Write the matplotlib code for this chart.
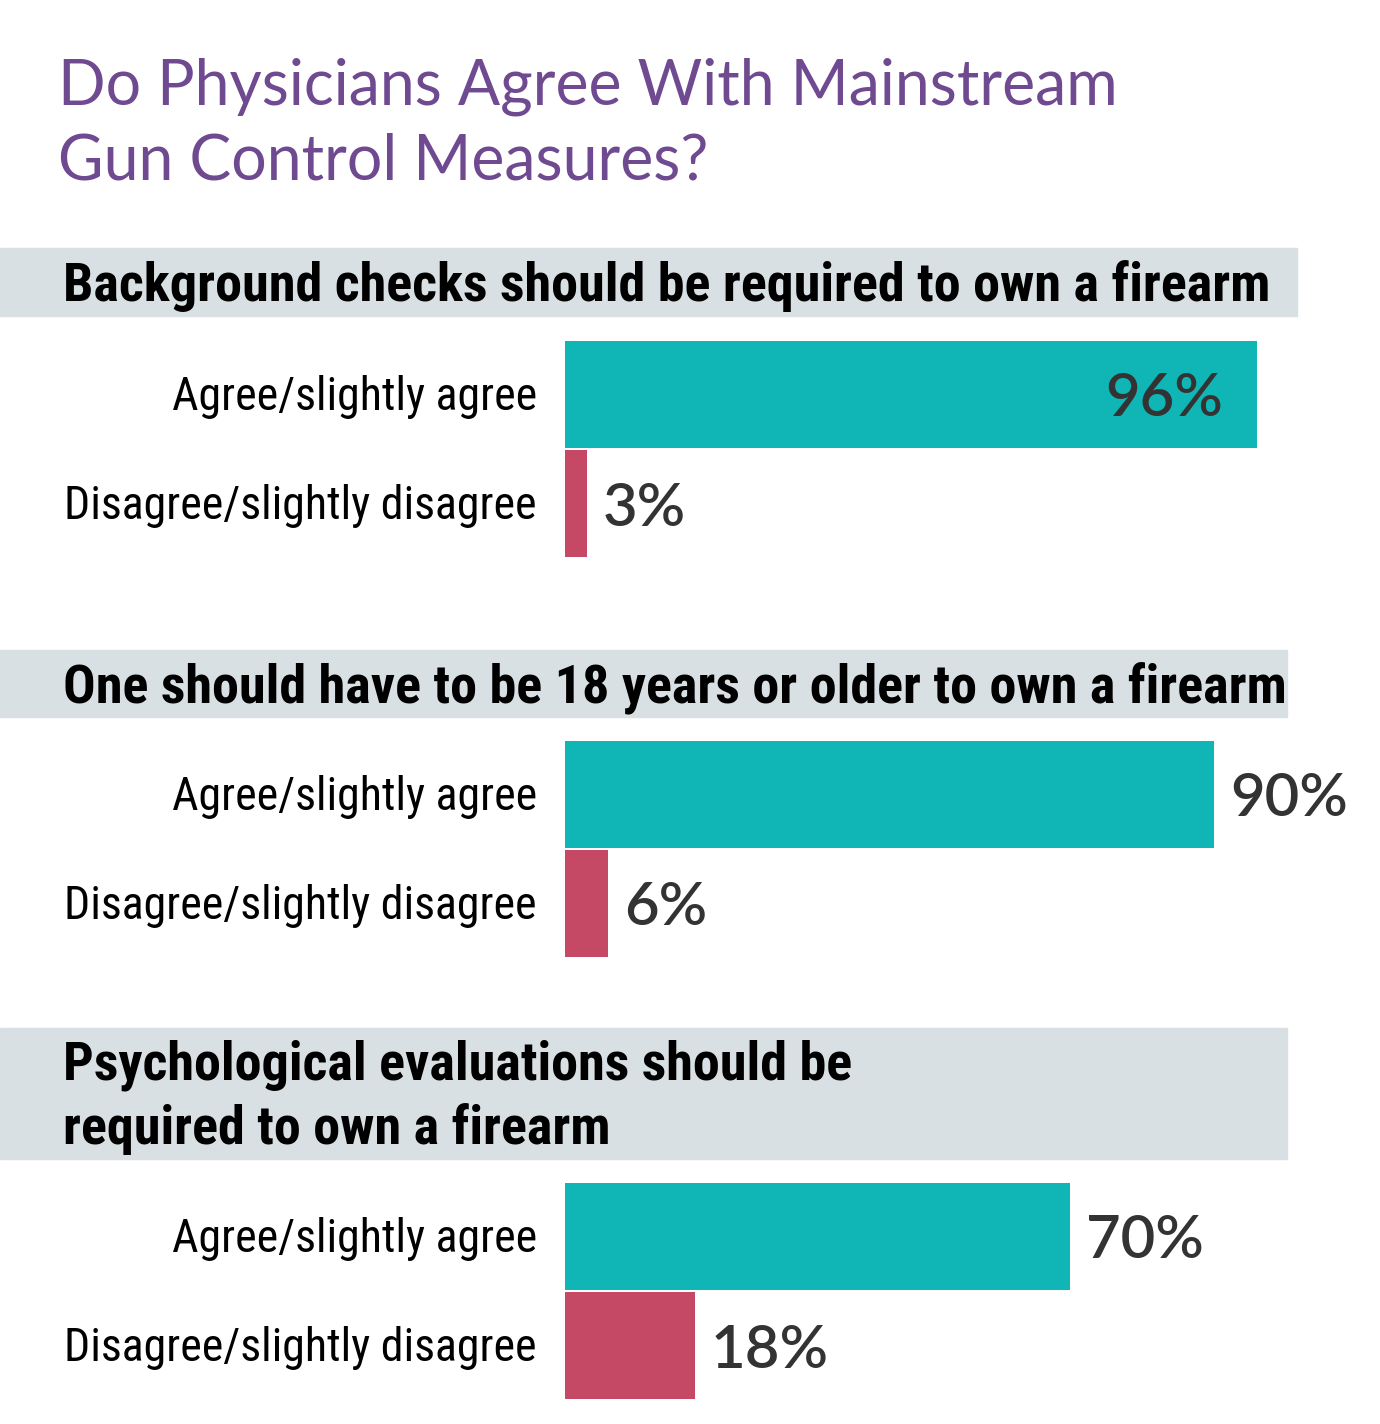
import matplotlib.pyplot as plt
from matplotlib.patches import Rectangle
from matplotlib import font_manager

W, H = 1380, 1424

title_lines = ["Do Physicians Agree With Mainstream", "Gun Control Measures?"]
questions = [
    "Background checks should be required to own a firearm",
    "One should have to be 18 years or older to own a firearm",
    "Psychological evaluations should be\nrequired to own a firearm",
]
answers = ["Agree/slightly agree", "Disagree/slightly disagree"]
agree = [96, 90, 70]
disagree = [3, 6, 18]

TEAL = "#10B5B6"
PINK = "#C54964"
PURPLE = "#6F4A91"
BAND = "#D9E0E3"
DARK = "#333333"

names = {f.name for f in font_manager.fontManager.ttflist}


def pick(*fams):
    for f in fams:
        if f in names:
            return f
    return "DejaVu Sans"


COND = pick("Roboto Condensed", "Liberation Sans Narrow", "Roboto")
TITLE = pick("Lato", "Open Sans")
NUM = pick("Lato", "Open Sans")


def fx(px):
    return px / W


def fy(py):
    return 1 - py / H


fig = plt.figure(figsize=(W / 100, H / 100), dpi=100)

# title
fig.text(fx(58), fy(104), title_lines[0], color=PURPLE, fontsize=45,
         family=TITLE, va="baseline")
fig.text(fx(58), fy(180), title_lines[1], color=PURPLE, fontsize=45,
         family=TITLE, va="baseline")

# header bands (top, bottom, right)
bands = [(248, 316, 1297), (650, 717, 1287), (1028, 1159, 1287)]
bar_tops = [340, 740, 1182]
bar_left, full_w = 565, 721  # pixels for 0..100 %
group_h = 218

for i, q in enumerate(questions):
    top, bot, right = bands[i]
    fig.patches.append(Rectangle((0, fy(bot)), fx(right), (bot - top) / H,
                                 transform=fig.transFigure, color=BAND,
                                 zorder=0))
    fig.text(fx(63), fy((top + bot) / 2 + 4), q, fontsize=39, weight="bold",
             family=COND, va="center", ha="left", linespacing=1.3)

    t = bar_tops[i]
    ax = fig.add_axes([fx(bar_left), fy(t + group_h), full_w / W, group_h / H])
    vals = [agree[i], disagree[i]]
    ax.barh([0, 1], vals, height=0.99, color=[TEAL, PINK])
    ax.set_xlim(0, 100)
    ax.set_ylim(1.5, -0.5)
    ax.axis("off")
    for j, v in enumerate(vals):
        if v > 92:
            ax.annotate(f"{v}%", (v, j), xytext=(-34, -5), textcoords="offset pixels",
                        ha="right", va="center", fontsize=43, color=DARK,
                        family=NUM, weight="semibold")
        else:
            ax.annotate(f"{v}%", (v, j), xytext=(16, -5), textcoords="offset pixels",
                        ha="left", va="center", fontsize=43, color=DARK,
                        family=NUM, weight="semibold", annotation_clip=False)
        fig.text(fx(537), fy(t + 57 + j * 109), answers[j], fontsize=33,
                 family=COND, ha="right", va="center")

fig.savefig("out.png", dpi=100)
